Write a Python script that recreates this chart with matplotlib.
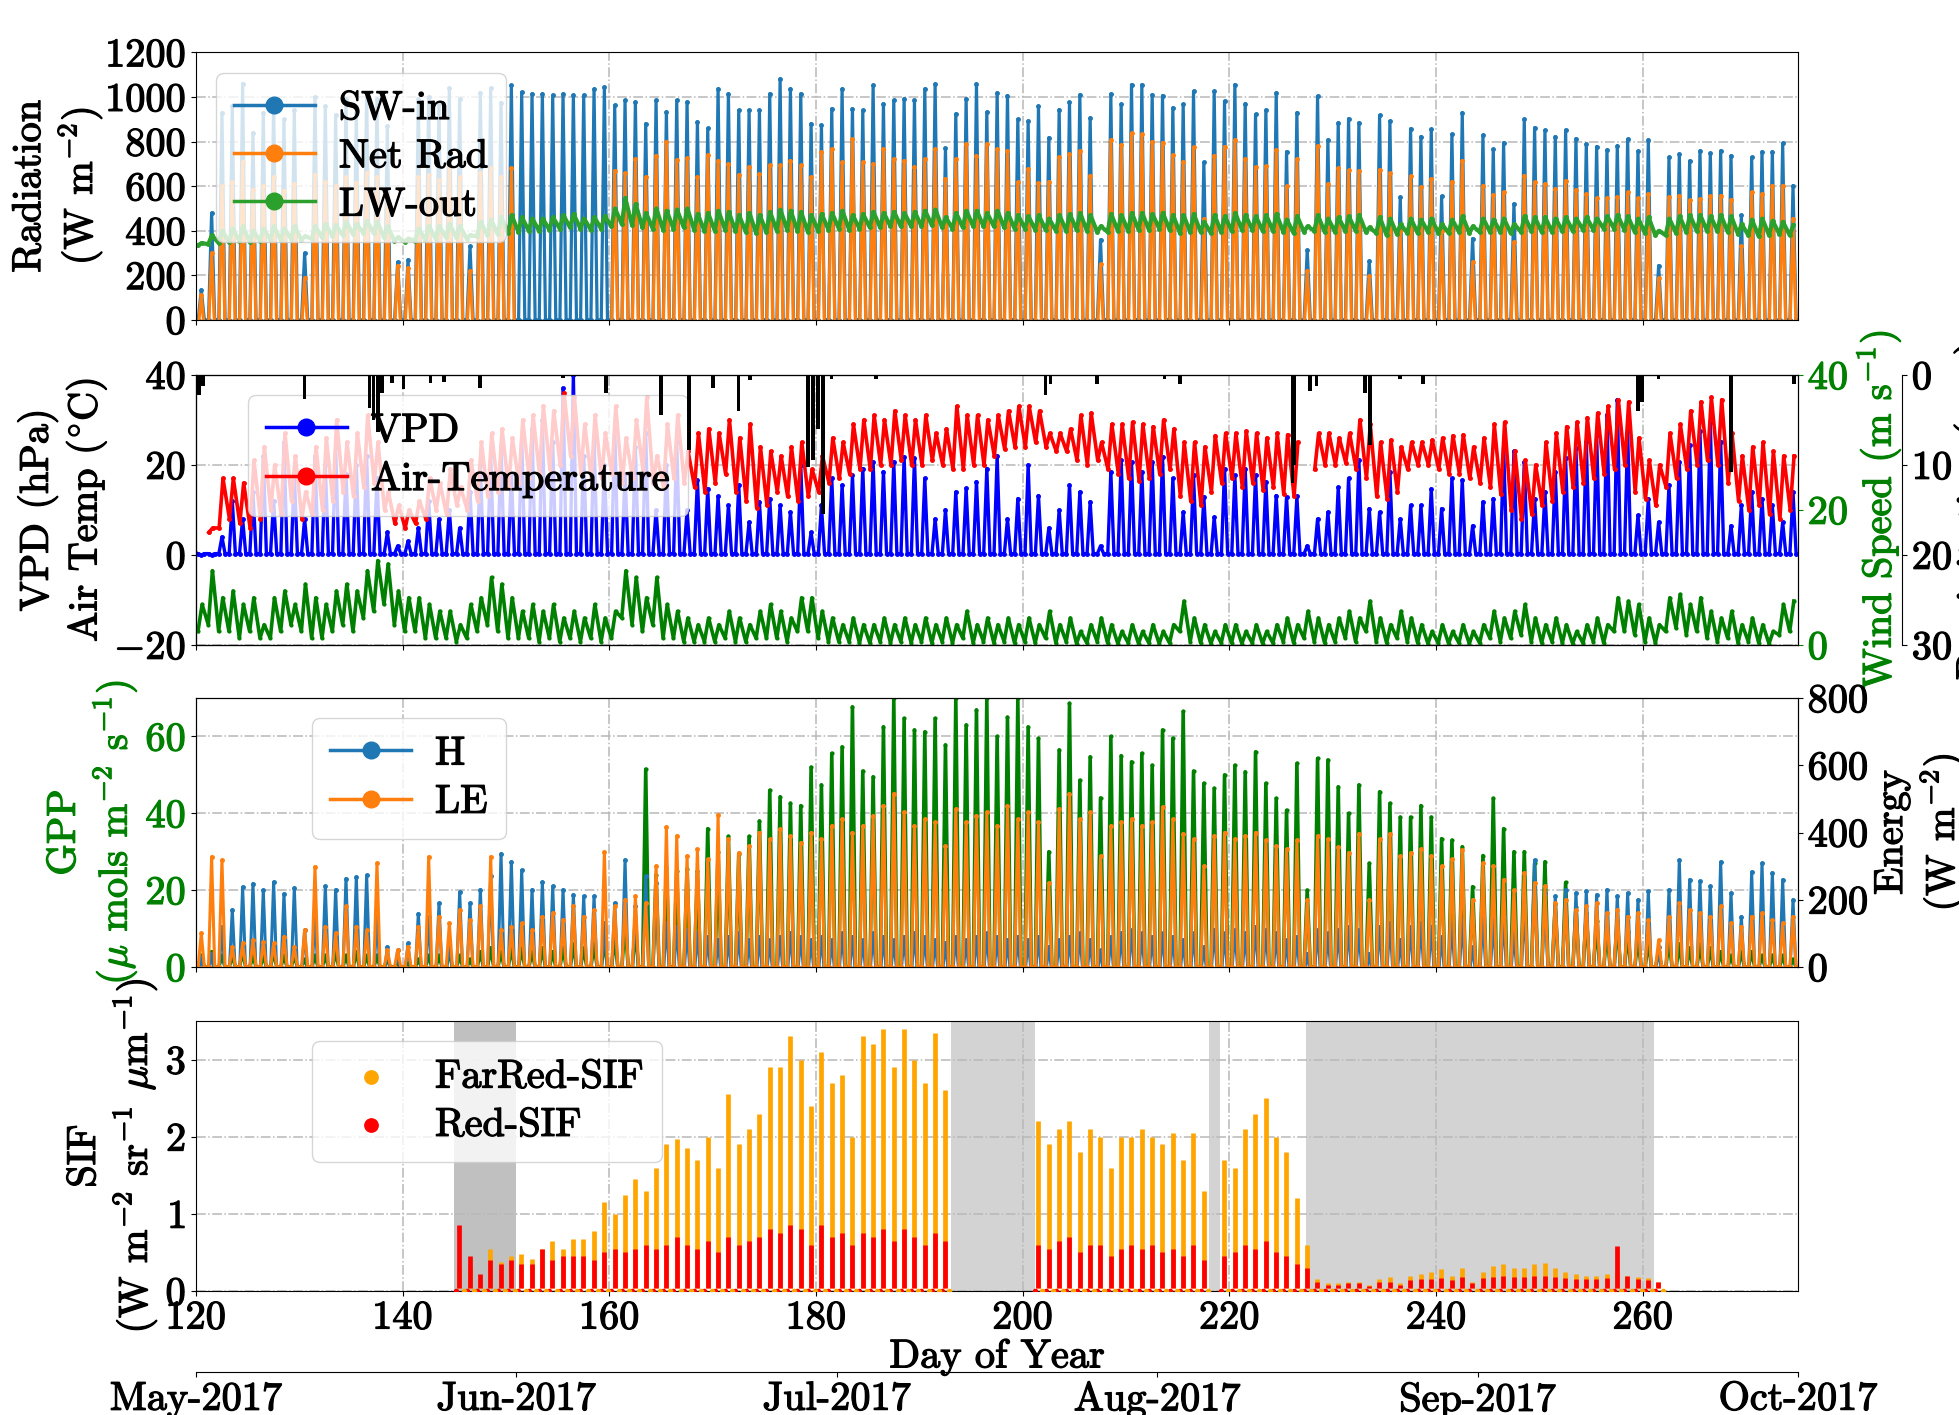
import numpy as np
import matplotlib
matplotlib.use("Agg")
import matplotlib.pyplot as plt
import matplotlib.patheffects as pe
from matplotlib.text import Text

plt.rcParams.update({
    "font.family": "cmr10",
    "mathtext.fontset": "cm",
    "axes.formatter.use_mathtext": True,
    "axes.unicode_minus": False,
    "font.size": 29,
})

nan = np.nan
days = np.arange(120, 275)

# ---------------- Panel 1: radiation (daily peaks / ranges, W m-2) ----------------
sw_peak = [135, 480, 930, 960, 1060, 840, 930, 970, 900, 940,
           300, 1000, 960, 920, 990, 930, 1020, 990, 870, 260,
           270, 990, 1000, 970, 1040, 990, 330, 1020, 1040, 975,
           1052, 1022, 1015, 1015, 1008, 1015, 1008, 1008, 1036, 1045,
           963, 985, 978, 881, 985, 933, 985, 978, 889, 859,
           1037, 1015, 940, 940, 940, 1015, 1082, 1037, 1015, 881,
           874, 948, 1037, 948, 940, 1052, 970, 985, 993, 985,
           1037, 1059, 770, 925, 993, 1059, 933, 1019, 1007, 900,
           892, 959, 818, 944, 977, 1011, 907, 360, 1014, 967,
           1056, 1056, 1011, 1007, 952, 967, 1026, 707, 1026, 982,
           1056, 970, 922, 942, 1019, 755, 930, 313, 1004, 808,
           885, 903, 885, 264, 918, 892, 551, 858, 823, 855,
           555, 833, 930, 365, 829, 766, 796, 521, 900, 863,
           851, 823, 852, 814, 789, 778, 763, 781, 811, 757,
           808, 244, 729, 744, 714, 759, 747, 759, 737, 469,
           729, 755, 755, 793, 603]
netrad_peak = [110, 300, 600, 620, 710, 585, 600, 640, 580, 610,
               190, 650, 620, 600, 640, 615, 660, 640, 560, 243,
               235, 640, 650, 630, 690, 640, 220, 660, 680, 643,
               680, nan, nan, nan, nan, nan, nan, nan, nan, nan,
               670, 658, 722, 640, 737, 800, 718, 725, 640, 740,
               715, 700, 651, 685, 655, 693, 693, 715, 693, 640,
               752, 767, 707, 811, 707, 700, 767, 722, 715, 688,
               722, 767, 633, 722, 789, 737, 789, 766, 759, 618,
               677, 615, 621, 729, 744, 759, 648, 250, 808, 784,
               838, 833, 799, 796, 740, 710, 774, 454, 737, 778,
               808, 722, 685, 689, 763, 600, 722, 220, 781, 610,
               680, 671, 670, 195, 674, 658, 400, 645, 596, 633,
               400, 621, 714, 260, 603, 561, 572, 350, 648, 618,
               610, 588, 625, 585, 566, 547, 547, 551, 572, 547,
               566, 187, 551, 558, 536, 543, 555, 558, 540, 330,
               572, 566, 603, 603, 454]
netrad_night = -40
lw_max = [345, 380, 400, 410, 420, 400, 410, 420, 410, 420,
          375, 420, 430, 425, 440, 430, 445, 440, 420, 370,
          365, 410, 420, 420, 430, 420, 380, 440, 450, 460,
          470, 460, 455, 455, 460, 470, 475, 455, 460, 465,
          500, 545, 520, 480, 500, 490, 495, 500, 475, 480,
          490, 485, 470, 480, 470, 485, 495, 490, 485, 470,
          475, 480, 490, 470, 475, 485, 480, 485, 480, 485,
          490, 495, 460, 480, 490, 490, 480, 490, 480, 470,
          465, 470, 455, 470, 475, 480, 470, 420, 475, 470,
          480, 480, 475, 480, 470, 470, 475, 440, 470, 465,
          480, 470, 465, 470, 475, 450, 465, 420, 470, 455,
          460, 465, 470, 415, 460, 455, 430, 455, 450, 455,
          430, 450, 465, 420, 455, 450, 455, 430, 465, 460,
          460, 455, 460, 455, 460, 455, 465, 470, 465, 455,
          460, 400, 455, 465, 470, 470, 465, 470, 465, 430,
          450, 455, 445, 440, 425]
lw_min = [335, 340, 345, 350, 355, 350, 355, 360, 360, 365,
          360, 365, 370, 375, 380, 385, 390, 390, 370, 355,
          350, 355, 360, 365, 370, 370, 365, 375, 380, 385,
          390, 395, 400, 400, 405, 410, 415, 410, 405, 410,
          420, 430, 425, 415, 410, 405, 410, 415, 405, 400,
          400, 405, 400, 395, 390, 395, 400, 405, 400, 395,
          400, 405, 410, 405, 410, 415, 415, 420, 420, 420,
          420, 425, 415, 410, 415, 420, 420, 420, 415, 410,
          410, 405, 405, 400, 400, 405, 400, 395, 395, 400,
          400, 405, 405, 410, 405, 390, 395, 395, 390, 395,
          400, 405, 405, 400, 400, 395, 390, 395, 400, 395,
          395, 400, 400, 395, 390, 380, 385, 390, 390, 395,
          390, 390, 395, 390, 395, 395, 395, 390, 395, 400,
          395, 395, 400, 400, 405, 405, 410, 410, 405, 395,
          390, 380, 380, 390, 395, 400, 400, 400, 395, 385,
          380, 375, 380, 385, 380]

# ---------------- Panel 2: VPD, air temperature, wind, precipitation ----------------
vpd_peak = [0, 0, 4, 12, 8, 14, 22, 12, 25, 18,
            8, 22, 20, 24, 18, 20, 22, 17, 5, 2,
            3, 6, 12, 8, 10, 6, 14, 20, 22, 24,
            18, 26, 28, 30, 25, 37, 40, 22, 26, 20,
            28, 18, 24, 27, 10, 20, 25, 10, 16.6, 14.7,
            13, 11, 15.5, 7.3, 11.8, 12.5, 11, 9.5, 20, 5,
            11, 17, 15.5, 17.7, 19.2, 20.7, 18.5, 20.7, 21.8, 21.5,
            17, 8, 10, 14, 14.8, 16.3, 19.2, 22, 8, 12.5,
            20, 13.2, 6, 10, 15.5, 14, 11.8, 2, 18.5, 21,
            20.7, 18.5, 20.7, 21.8, 17, 9.5, 17.7, 12.9, 8.4, 19.2,
            17.7, 19.2, 17.7, 16.3, 13.2, 12.9, 13, 2, 8, 9.5,
            15, 17, 21, 10.3, 9.5, 18.5, 8, 11, 11, 14.7,
            10.3, 17, 16.6, 6.5, 11.8, 12.5, 24, 23, 20.7, 12.5,
            14, 18.5, 21.5, 23.7, 25.2, 26.7, 31.2, 34.5, 27.5, 8.8,
            12.5, 7.3, 15.5, 20.7, 24.5, 27.5, 29.3, 25.2, 6.5, 11,
            14, 12.5, 11, 7.3, 14]
vpd_night = 0.3
tair_max = [nan, 6, 17, 17, 16, 21, 24, 20, 27, 22,
            14, 24, 26, 30, 25, 27, 31, 25, 14, 11,
            10, 12, 17, 16, 19, 15, 21, 25, 27, 28,
            26, 30, 31, 33, 32, 36, 35, 29, 31, 27,
            33, 26, 30, 35, 22, 29, 31, 23, 27, 28,
            27, 30, 26, 29, 24, 23, 22, 24, 25, 19,
            22, 26, 25, 29, 30, 31, 30, 32, 31, 30,
            31, 27, 28, 33, 31, 31, 30, 31, 32, 33,
            33, 32, 27, 27, 28, 31, 31.5, 25, 29, 29,
            29.5, 29, 28.5, 30, 28, 25, 25, 24, 26.5, 27,
            27, 27.5, 27, 26, 27, 26.7, 25, nan, 27, 27,
            26, 27, 30, 29, 25, 25.5, 24, 25, 25, 25.5,
            26, 26.5, 26.7, 24, 26, 29, 29.5, 23, 21, 20,
            25, 27, 28.5, 29.5, 30.5, 31.5, 33, 34.5, 34, 26,
            21, 20, 27, 29, 32, 34, 35, 34.5, 27, 22,
            24, 25, 23, 22, 22]
tair_min = [nan, 5, 6, 8, 7, 6, 8, 10, 9, 12,
            8, 9, 10, 12, 14, 13, 15, 16, 10, 7,
            6, 7, 8, 10, 9, 11, 10, 12, 13, 14,
            15, 16, 17, 18, 19, 20, 22, 18, 17, 17,
            18, 16, 17, 19, 16, 15, 17, 16, 15, 14,
            16, 18, 14, 12, 10.5, 11, 14, 13, 12, 13,
            14, 16, 17, 18, 19, 19, 20, 20, 21, 20,
            20, 21, 20, 19, 19, 20, 20, 22, 23.5, 24,
            24, 25, 24, 23, 23, 21, 20, 21, 19, 18,
            17, 16.5, 17, 18, 19, 13, 12, 11, 14, 16,
            17, 15, 16, 14.5, 15, 13.5, 13, nan, 19, 20,
            20, 20.5, 19, 17, 13, 12.5, 14, 19, 20, 20,
            19, 18, 18, 17, 16, 15, 13.5, 10, 8, 9,
            11, 12, 14, 15, 16, 17, 18, 19, 20, 14,
            12.5, 11, 15, 17, 19, 20, 21, 20, 16, 12,
            10, 11, 9, 8, 10]
wind_max = [6, 11, 7, 8, 6, 7, 3, 7, 8, 6,
            9, 7, 6, 8, 9, 8, 11, 12.5, 12, 8,
            7, 7, 6, 5, 5, 3, 6, 7, 10, 9,
            7, 5, 6, 5, 6, 4, 5, 4, 6, 4,
            5, 11, 10, 7, 10, 6, 5, 4, 3, 4,
            3, 5, 4, 3, 5, 6, 5, 4, 7, 7,
            5, 4, 3, 4, 3, 3, 4, 3, 4, 3,
            4, 3, 4, 3, 5, 3, 4, 3, 4, 3,
            4, 3, 5, 3, 4, 2, 3, 4, 3, 2,
            3, 2, 3, 2, 3, 6.5, 4, 3, 2, 3,
            3, 2, 3, 2, 3, 4, 3, 5, 4, 3,
            4, 5, 4, 6.5, 4, 3, 5, 4, 3, 2,
            3, 2, 3, 2, 3, 5, 4, 5, 6, 4,
            3, 4, 3, 2, 3, 4, 3, 7, 6.5, 6,
            4, 3, 7, 7.5, 6, 7, 5, 4, 5, 3,
            4, 3, 2, 6, 6.5]
wind_min = [2, 3, 2, 2, 1, 2, 1, 1, 2, 3,
            2, 1, 1, 2, 3, 2, 4, 5, 6, 3,
            2, 2, 1, 1, 1, 0.5, 1, 2, 3, 2,
            1, 1, 1, 0.5, 1, 0.5, 1, 0.5, 1, 0.5,
            1, 4, 3, 2, 3, 1, 1, 0.5, 0.5, 0.5,
            0.5, 1, 0.5, 0.5, 1, 1, 1, 0.5, 2, 2,
            1, 0.5, 0.5, 0.5, 0.3, 0.3, 0.5, 0.3, 0.5, 0.3,
            0.5, 0.3, 0.5, 0.3, 1, 0.3, 0.5, 0.3, 0.5, 0.3,
            0.5, 0.3, 1, 0.3, 0.5, 0.2, 0.3, 0.5, 0.3, 0.2,
            0.3, 0.2, 0.3, 0.2, 0.3, 2, 0.5, 0.3, 0.2, 0.3,
            0.3, 0.2, 0.3, 0.2, 0.3, 0.5, 0.3, 1, 0.5, 0.3,
            0.5, 1, 0.5, 2, 0.5, 0.3, 1, 0.5, 0.3, 0.2,
            0.3, 0.2, 0.3, 0.2, 0.3, 1, 0.5, 1, 1.5, 0.5,
            0.3, 0.5, 0.3, 0.2, 0.3, 0.5, 0.3, 2, 2, 1.5,
            0.5, 0.3, 2, 2.5, 1.5, 2, 1, 0.5, 1, 0.3,
            0.5, 0.3, 0.2, 1.5, 2]
precip_day = [120.3, 120.7, 130.5, 136.8, 137.2, 137.6, 138.0, 139.0, 140.1, 142.7,
              144.0, 147.5, 155.5, 159.7, 165.0, 167.7, 170.0, 172.5, 173.6, 179.2,
              179.7, 180.2, 180.7, 181.5, 185.8, 202.2, 202.7, 207.2, 213.7, 215.2,
              226.1, 226.3, 227.8, 228.4, 233.1, 233.6, 236.5, 238.7, 259.5, 259.9,
              261.5, 268.5, 274.6]
precip_mm = [2.2, 1.2, 2.7, 3.7, 5.0, 6.3, 2.0, 0.9, 1.6, 0.9,
             0.8, 1.4, 0.3, 2.0, 4.4, 8.3, 1.4, 4.0, 0.6, 10.2,
             9.5, 6.0, 15.4, 0.5, 0.5, 2.2, 1.0, 1.0, 0.4, 1.0,
             12.0, 10.0, 1.8, 1.2, 2.0, 7.8, 0.4, 1.0, 4.0, 3.0,
             0.5, 10.8, 1.0]

# ---------------- Panel 3: GPP and energy fluxes ----------------
gpp_peak = [3, 4, 3, 3, 4, 3, 3, 4, 3, 3,
            2, 3, 3, 4, 3, 4, 3, 3, 2, 1,
            1, 2, 3, 3, 4, 3, 2, 4, 5, 4,
            5, 5, 4, 5, 4, 5, 6, 5, 6, 7,
            8, 12, 10, 51.5, 24, 26, 25, 25.6, 25, 36,
            30, 34, 29.5, 34, 38, 46, 44.3, 42.6, 42, 52,
            47.4, 55.6, 57.3, 67.7, 51, 49.5, 62.5, 70, 64.7, 61.7,
            61.2, 64.7, 57.8, 70, 63, 66.9, 70, 60, 65, 70,
            62.5, 59.5, 30, 56.5, 68.6, 48.6, 54.7, 44, 60, 55,
            53.4, 55.6, 52.5, 61.7, 59.5, 66.5, 51, 47.8, 46.5, 50,
            52.5, 50.8, 56, 47.8, 43.9, 40.8, 53, 20, 54.3, 53.9,
            46.9, 40, 47.4, 27, 45.6, 42.6, 39, 39, 42, 39,
            33.4, 33, 31.3, 20.9, 29, 43.9, 36, 30, 30, 27,
            27.4, 16.5, 22, 15.6, 14, 12, 10, 12, 9, 8,
            7, 4, 7, 6, 5, 6, 5, 4, 3, 4,
            4, 3, 3, 3, 2]
h_peak = [30, 40, 120, 170, 238, 248, 228, 253, 218, 235,
          110, 150, 240, 230, 263, 268, 273, 150, 60, 50,
          70, 159, 150, 189, 80, 223, 190, 230, 270, 337,
          313, 288, 230, 253, 240, 230, 215, 210, 210, 130,
          190, 318, 180, 270, 250, 130, 120, 110, 100, 90,
          80, 90, 100, 80, 90, 80, 90, 100, 90, 80,
          90, 80, 100, 90, 80, 100, 90, 80, 90, 100,
          90, 80, 70, 90, 80, 90, 100, 90, 80, 90,
          80, 90, 60, 80, 90, 100, 80, 50, 90, 100,
          110, 100, 90, 100, 90, 80, 100, 60, 110, 100,
          110, 100, 120, 110, 100, 80, 90, 40, 110, 100,
          110, 120, 110, 40, 120, 130, 80, 120, 130, 120,
          90, 130, 140, 60, 150, 140, 150, 100, 180, 318,
          220, 210, 230, 220, 225, 215, 230, 210, 220, 200,
          225, 60, 230, 318, 260, 255, 240, 313, 220, 150,
          283, 308, 280, 260, 200]
le_peak = [100, 328, 318, 60, 70, 80, 75, 70, 90, 60,
           110, 298, 120, 100, 180, 120, 110, 308, 50, 50,
           60, 120, 328, 150, 130, 170, 140, 180, 328, 110,
           120, 130, 110, 150, 160, 140, 180, 150, 170, 342,
           180, 200, 210, 190, 300, 417, 390, 330, 350, 320,
           452, 380, 340, 360, 400, 380, 410, 390, 370, 400,
           380, 420, 440, 400, 420, 450, 480, 516, 460, 420,
           440, 430, 360, 470, 430, 450, 460, 420, 480, 440,
           460, 430, 250, 470, 516, 440, 460, 330, 420, 430,
           440, 420, 430, 476, 440, 397, 380, 300, 390, 400,
           380, 390, 400, 377, 360, 350, 377, 200, 390, 380,
           357, 340, 397, 200, 380, 397, 330, 340, 350, 330,
           300, 320, 347, 200, 308, 300, 260, 228, 280, 250,
           240, 190, 200, 170, 180, 190, 160, 170, 150, 160,
           140, 80, 150, 190, 170, 160, 150, 180, 130, 120,
           150, 160, 140, 130, 150]
h_night = -20
le_night = 0

# ---------------- Panel 4: SIF (days 145-261) ----------------
sif_days = np.arange(145, 262)
farred_peak = [0.30, 0.30, 0.15, 0.55, 0.38, 0.45, 0.48, 0.42, 0.55, 0.65,
               0.55, 0.67, 0.68, 0.78, 1.15, 1.00, 1.25, 1.45, 1.30, 1.60,
               1.90, 1.97, 1.85, 1.70, 2.00, 1.60, 2.55, 1.90, 2.10, 2.30,
               2.90, 2.90, 3.30, 3.00, 2.40, 3.10, 2.70, 2.80, 2.00, 3.30,
               3.20, 3.40, 2.90, 3.40, 3.00, 2.70, 3.35, 2.60, nan, nan,
               nan, nan, nan, nan, nan, nan, 2.20, 1.90, 2.10, 2.20,
               1.80, 2.10, 2.00, 1.60, 2.00, 2.00, 2.10, 2.00, 1.90, 2.05,
               1.70, 2.05, 1.30, nan, 1.70, 1.60, 2.10, 2.30, 2.50, 2.00,
               1.80, 1.20, 0.60, 0.15, 0.10, 0.10, 0.12, 0.12, 0.08, 0.15,
               0.18, 0.10, 0.20, 0.22, 0.25, 0.28, 0.20, 0.30, 0.12, 0.25,
               0.32, 0.35, 0.30, 0.30, 0.35, 0.36, 0.30, 0.25, 0.22, 0.20,
               0.20, 0.22, 0.25, 0.20, 0.18, 0.17, 0.12]
red_peak = [0.85, 0.45, 0.22, 0.40, 0.35, 0.40, 0.35, 0.35, 0.55, 0.40,
            0.45, 0.45, 0.45, 0.40, 0.50, 0.55, 0.50, 0.55, 0.60, 0.55,
            0.60, 0.70, 0.60, 0.55, 0.65, 0.50, 0.70, 0.60, 0.65, 0.70,
            0.80, 0.75, 0.85, 0.80, 0.60, 0.85, 0.70, 0.75, 0.60, 0.75,
            0.70, 0.80, 0.65, 0.80, 0.70, 0.60, 0.75, 0.65, nan, nan,
            nan, nan, nan, nan, nan, nan, 0.60, 0.55, 0.65, 0.70,
            0.50, 0.60, 0.60, 0.45, 0.55, 0.60, 0.55, 0.60, 0.50, 0.55,
            0.45, 0.60, 0.40, nan, 0.45, 0.50, 0.60, 0.55, 0.65, 0.50,
            0.45, 0.35, 0.30, 0.12, 0.08, 0.08, 0.10, 0.10, 0.07, 0.12,
            0.12, 0.08, 0.14, 0.15, 0.16, 0.17, 0.14, 0.18, 0.10, 0.17,
            0.18, 0.20, 0.18, 0.18, 0.20, 0.20, 0.18, 0.17, 0.16, 0.15,
            0.16, 0.17, 0.58, 0.20, 0.15, 0.14, 0.12]
sif_floor = 0.04
sif_gaps_dark = [(145.0, 151.0)]
sif_gaps_light = [(193.1, 201.2), (218.0, 219.1), (227.4, 261.1)]

month_pos = [120, 151, 182, 213, 244, 275]
month_labels = ["May-2017", "Jun-2017", "Jul-2017", "Aug-2017", "Sep-2017", "Oct-2017"]


# ---------------- helpers: order daily readings in time ----------------
def diurnal(d, night, peak):
    peak = np.asarray(peak, float)
    night = np.broadcast_to(np.asarray(night, float), peak.shape).copy()
    night[np.isnan(peak)] = np.nan
    t = np.column_stack([d + 0.22, d + 0.52, d + 0.82]).ravel()
    v = np.column_stack([night, peak, night]).ravel()
    return t, v


def minmax(d, lo, hi, t_lo=0.25, t_hi=0.62):
    t = np.column_stack([d + t_lo, d + t_hi]).ravel()
    v = np.column_stack([np.asarray(lo, float), np.asarray(hi, float)]).ravel()
    return t, v


def big_handles(leg):
    for h in leg.legend_handles:
        h.set_markersize(12)
        h.set_linewidth(2.5)


LEGKW = dict(labelspacing=0.3, handletextpad=0.6, borderpad=0.45)
GRID = dict(linestyle="-.", color="0.72", linewidth=1.1)
L, W = 0.1, 0.8178
fig = plt.figure(figsize=(19.59, 14.15), dpi=100)
ax1 = fig.add_axes([L, 0.7739, W, 0.1890])
ax2 = fig.add_axes([L, 0.5442, W, 0.1908])
ax3 = fig.add_axes([L, 0.3166, W, 0.1901])
ax4 = fig.add_axes([L, 0.0876, W, 0.1908])

for ax in (ax1, ax2, ax3, ax4):
    ax.set_xlim(120, 275)
    ax.set_xticks(range(120, 261, 20))
    ax.grid(True, **GRID)
for ax in (ax1, ax2, ax3):
    ax.tick_params(labelbottom=False)

# Panel 1
kw = dict(marker="o", ms=2.5, lw=2.3)
t, v = diurnal(days, 0, sw_peak)
ax1.plot(t, v, color="#1f77b4", label="SW-in", **kw)
t, v = diurnal(days, netrad_night, netrad_peak)
ax1.plot(t, v, color="#ff7f0e", label="Net Rad", **kw)
t, v = minmax(days, lw_min, lw_max, 0.2, 0.55)
ax1.plot(t, v, color="#2ca02c", label="LW-out", marker="o", ms=2.5, lw=3.0)
ax1.set_ylim(0, 1200)
ax1.set_yticks(range(0, 1201, 200))
ax1.set_ylabel("Radiation\n(W m$^{-2}$)", labelpad=0)
big_handles(ax1.legend(loc="upper left", **LEGKW))

# Panel 2
t, v = diurnal(days, vpd_night, vpd_peak)
ax2.plot(t, v, color="blue", label="VPD", marker="o", ms=2.5, lw=2.4)
t, v = minmax(days, tair_min, tair_max)
ax2.plot(t, v, color="red", label="Air-Temperature", marker="o", ms=2.5, lw=2.6)
ax2.set_ylim(-20, 40)
ax2.set_yticks([-20, 0, 20, 40])
ax2.set_ylabel("VPD (hPa)\nAir Temp ($^{\\circ}$C)")
big_handles(ax2.legend(loc="upper left", bbox_to_anchor=(0.02, 1.0), **LEGKW))

ax2w = ax2.twinx()
t, v = minmax(days, wind_min, wind_max, 0.2, 0.6)
ax2w.plot(t, v, color="green", marker="o", ms=2, lw=2.6)
ax2w.set_ylim(0, 40)
ax2w.set_yticks([0, 20, 40])
ax2w.tick_params(axis="y", colors="green")
ax2w.set_ylabel("Wind Speed (m s$^{-1}$)", color="green")

ax2p = ax2.twinx()
ax2p.spines["right"].set_position(("axes", 1.065))
ax2p.bar(precip_day, precip_mm, width=0.35, color="black")
ax2p.set_ylim(30, 0)
ax2p.set_yticks([0, 10, 20, 30])
ax2p.set_ylabel("Precipitation (mm)", labelpad=1)

# Panel 3
t, v = diurnal(days, 0, gpp_peak)
ax3.plot(t, v, color="green", marker="o", ms=2, lw=2.6)
ax3.set_ylim(0, 70)
ax3.set_yticks([0, 20, 40, 60])
ax3.tick_params(axis="y", labelcolor="green")
ax3.set_ylabel("GPP\n($\\mu$ mols m$^{-2}$ s$^{-1}$)", color="green")

ax3e = ax3.twinx()
t, v = diurnal(days, h_night, h_peak)
ax3e.plot(t, v, color="#1f77b4", label="H", marker="o", ms=2.5, lw=2.2)
t, v = diurnal(days, le_night, le_peak)
ax3e.plot(t, v, color="#ff7f0e", label="LE", marker="o", ms=2.5, lw=2.2)
ax3e.set_ylim(0, 800)
ax3e.set_yticks(range(0, 801, 200))
ax3e.set_ylabel("Energy\n(W m$^{-2}$)")
big_handles(ax3e.legend(loc="upper left", bbox_to_anchor=(0.06, 1.0), **LEGKW))

# Panel 4
for a, b in sif_gaps_dark:
    ax4.axvspan(a, b, color="silver", lw=0, zorder=1)
for a, b in sif_gaps_light:
    ax4.axvspan(a, b, color="lightgray", lw=0, zorder=1)
fr = np.asarray(farred_peak, float)
rd = np.asarray(red_peak, float)
ok = ~np.isnan(fr)
ax4.vlines(sif_days[ok] + 0.5, sif_floor, fr[ok], colors="orange", lw=3.4, zorder=2)
ax4.vlines(sif_days[ok] + 0.5, sif_floor, rd[ok], colors="red", lw=3.4, zorder=3)
ax4.scatter(sif_days[ok] + 0.9, np.zeros(ok.sum()), s=9, color="orange", zorder=4,
            label="FarRed-SIF")
ax4.scatter(sif_days[ok] + 0.2, np.zeros(ok.sum()), s=9, color="red", zorder=3,
            label="Red-SIF")
ax4.set_ylim(0, 3.5)
ax4.set_yticks([0, 1, 2, 3])
ax4.set_ylabel("SIF\n(W m$^{-2}$ sr$^{-1}$ $\\mu$m$^{-1}$)")
ax4.set_xlabel("Day of Year", labelpad=2)
ax4.legend(loc="upper left", bbox_to_anchor=(0.06, 1.0), markerscale=3.2, **LEGKW)

sec = ax4.secondary_xaxis(-0.30)
sec.set_xticks(month_pos, labels=month_labels)

# slightly heavier text strokes, like the reference rendering
fig.canvas.draw()
for txt in fig.findobj(Text):
    if txt.get_text():
        txt.set_path_effects([pe.withStroke(linewidth=0.9, foreground=txt.get_color())])

fig.savefig("out.png", dpi=100)
